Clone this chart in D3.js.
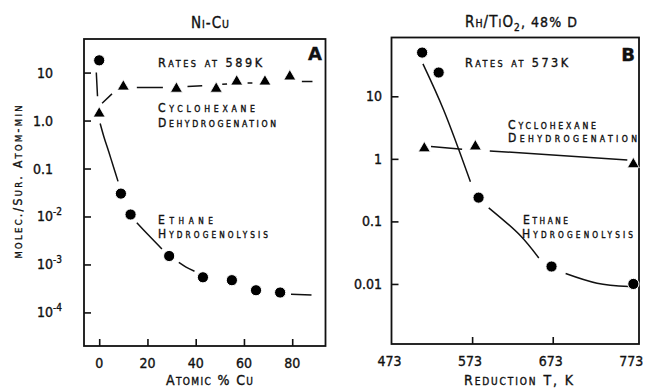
<!DOCTYPE html>
<html><head><meta charset="utf-8">
<script src="https://cdn.jsdelivr.net/npm/d3@7"></script>
<style>
body{margin:0;background:#fff;}
text{font-family:'DejaVu Sans Condensed','Liberation Sans Narrow','DejaVu Sans',sans-serif;fill:#111;stroke:#111;stroke-width:0.35px;}
</style></head>
<body><svg id="c" width="650" height="388"></svg>
<script>
// ---------- Panel A: Ni-Cu, rates at 589K ----------
const cuEthane = [0, 9, 13, 29, 43, 55, 65, 75];
const rateEthaneA = [18, 0.03, 0.011, 0.0015, 0.00054, 0.00047, 0.00029, 0.00026];
const cuCyhex = [0, 10, 32, 48.5, 57, 68.7, 79];
const rateCyhexA = [1.4, 5.1, 4.6, 4.6, 6.5, 6.5, 8.3];
// hand-drawn guide lines (null = gap in the drawing)
const fitEthaneAx = [-1.2, -0.7, null, 0.4, 2, 4, 6, 7.8, null, 15.6, 20, 26, null, 33, 36, 39.5, null, 79.5, 88];
const fitEthaneAy = [10, 3.2, null, 0.87, 0.45, 0.22, 0.105, 0.054, null, 0.0074, 0.0043, 0.0021, null, 0.0011, 0.00088, 0.00072, null, 0.00024, 0.00023];
const fitCyhexAx = [1.2, 5.3, null, 15.6, 26.4, null, 36.6, 42.7, null, 51, 53, null, 61.5, 63.5, null, 84, 88.4];
const fitCyhexAy = [2.3, 3.6, null, 4.9, 4.9, null, 5.1, 5.3, null, 5.7, 5.8, null, 6.1, 6.1, null, 6.5, 6.5];
const xTicksA = [0, 20, 40, 60, 80];
const yTicksA = [10, 1, 0.1, 0.01, 0.001, 0.0001];
const yTickLabelsA = [["10",""], ["1.0",""], ["0.1",""], ["10","-2"], ["10","-3"], ["10","-4"]];

// ---------- Panel B: Rh/TiO2, rates at 573K ----------
const tEthane = [511, 531.5, 581, 671.5, 773];
const rateEthaneB = [50, 24, 0.24, 0.019, 0.01];
const tCyhex = [513.7, 577, 773];
const rateCyhexB = [1.47, 1.58, 0.82];
const fitEthaneBx = [512, 537.8, 570.9, null, 593.6, 633, 655.7, null, 689, 728, 767.5];
const fitEthaneBy = [33, 6.0, 0.43, null, 0.165, 0.059, 0.026, null, 0.0147, 0.0103, 0.0091];
const fitCyhexBx = [522, 560.6, null, 594.9, 765.5];
const fitCyhexBy = [1.58, 1.43, null, 1.34, 0.955];
const xTicksB = [573, 673];
const xTickLabelsB = [473, 573, 673, 773];
const yTicksB = [10, 1, 0.1, 0.01];
const yTickLabelsB = ["10", "1", "0.1", "0.01"];

const svg = d3.select("#c");

function panel(o) {
  const g = svg.append("g");
  const x = d3.scaleLinear().domain(o.xd).range([o.l, o.r]);
  const y = d3.scaleLog().domain(o.yd).range([o.b, o.t]);
  g.append("rect").attr("x", o.l).attr("y", o.t).attr("width", o.r - o.l).attr("height", o.b - o.t)
    .attr("fill", "none").attr("stroke", "#111").attr("stroke-width", 1.8);
  const ax = g.append("g").attr("transform", `translate(0,${o.b})`)
    .call(d3.axisTop(x).tickValues(o.xTicks).tickSize(7).tickFormat(""));
  const ay = g.append("g").attr("transform", `translate(${o.l},0)`)
    .call(d3.axisRight(y).tickValues(o.yTicks).tickSize(7).tickFormat(""));
  [ax, ay].forEach(a => { a.select(".domain").remove(); a.selectAll("line").attr("stroke", "#111").attr("stroke-width", 1.6); });
  const line = d3.line().defined(d => d[0] != null).x(d => x(d[0])).y(d => y(d[1])).curve(d3.curveCatmullRom.alpha(0.5));
  o.fits.forEach(f => {
    const pts = f.xs.map((v, i) => [v, f.ys[i]]);
    g.append("path").attr("d", line(pts)).attr("fill", "none").attr("stroke", "#111").attr("stroke-width", 1.5);
  });
  g.selectAll(".c").data(o.circ.xs.map((v, i) => [v, o.circ.ys[i]])).join("circle")
    .attr("cx", d => x(d[0])).attr("cy", d => y(d[1])).attr("r", 5.6).attr("fill", "#000")
    .attr("stroke", "#fff").attr("stroke-width", 1);
  const tri = d3.symbol().type(d3.symbolTriangle).size(62);
  g.selectAll(".t").data(o.tri.xs.map((v, i) => [v, o.tri.ys[i]])).join("path")
    .attr("d", tri).attr("transform", d => `translate(${x(d[0])},${y(d[1])})`).attr("fill", "#000")
    .attr("stroke", "#fff").attr("stroke-width", 0.8);
  return { g, x, y };
}

const A = panel({
  l: 84, r: 325.5, t: 39, b: 346, xd: [-6.3, 93.8], yd: [Math.pow(10, -4.7), Math.pow(10, 1.7)],
  xTicks: xTicksA, yTicks: yTicksA,
  fits: [{ xs: fitEthaneAx, ys: fitEthaneAy }, { xs: fitCyhexAx, ys: fitCyhexAy }],
  circ: { xs: cuEthane, ys: rateEthaneA }, tri: { xs: cuCyhex, ys: rateCyhexA }
});
const B = panel({
  l: 391.5, r: 639, t: 37.5, b: 344, xd: [473, 780], yd: [Math.pow(10, -2.96), Math.pow(10, 1.94)],
  xTicks: xTicksB, yTicks: yTicksB,
  fits: [{ xs: fitEthaneBx, ys: fitEthaneBy }, { xs: fitCyhexBx, ys: fitCyhexBy }],
  circ: { xs: tEthane, ys: rateEthaneB }, tri: { xs: tCyhex, ys: rateCyhexB }
});

// tick labels
A.g.selectAll(".xl").data(xTicksA).join("text").attr("x", d => A.x(d)).attr("y", 368)
  .attr("text-anchor", "middle").attr("font-size", 14).text(d => d);
A.g.selectAll(".yl").data(yTicksA).join("text").attr("y", d => A.y(d) + 5).attr("font-size", 14)
  .each(function (d, i) {
    const t = d3.select(this), lab = yTickLabelsA[i];
    if (lab[1]) {
      t.attr("x", 37).attr("text-anchor", "start");
      t.append("tspan").text(lab[0]);
      t.append("tspan").attr("font-size", 10).attr("dy", -6).text(lab[1]);
    } else t.attr("x", 53).attr("text-anchor", "end").text(lab[0]);
  });
B.g.selectAll(".xl").data(xTickLabelsB).join("text").attr("x", d => B.x(d) - 2).attr("y", 366)
  .attr("text-anchor", "middle").attr("font-size", 14).text(d => d);
B.g.selectAll(".yl").data(yTicksB).join("text").attr("x", 382).attr("y", d => B.y(d) + 5)
  .attr("text-anchor", "end").attr("font-size", 14).text((d, i) => yTickLabelsB[i]);

// small-caps lettering: capitals full size, lower case as reduced capitals
function smallCaps(t, s, size, ratio) {
  const runs = [];
  for (const ch of s) {
    const low = ch !== ch.toUpperCase();
    if (runs.length && runs[runs.length - 1].low === low) runs[runs.length - 1].s += ch;
    else runs.push({ low, s: ch });
  }
  runs.forEach(r => t.append("tspan").attr("font-size", r.low ? size * ratio : size).text(r.s.toUpperCase()));
}
function label(x, y, s, len, size, ratio, anchor) {
  const t = svg.append("text").attr("x", x).attr("y", y).attr("font-size", size)
    .attr("text-anchor", anchor || "start");
  smallCaps(t, s, size, ratio);
  if (len) t.attr("textLength", len).attr("lengthAdjust", "spacing");
  return t;
}
label(210, 28, "Ni-Cu", 38, 15, 0.7, "middle");
const tb = svg.append("text").attr("x", 521).attr("y", 27).attr("font-size", 15).attr("text-anchor", "middle")
  .attr("textLength", 112).attr("lengthAdjust", "spacing");
smallCaps(tb, "Rh/TiO", 15, 0.7);
tb.append("tspan").attr("font-size", 10).attr("dy", 4).text("2");
tb.append("tspan").attr("dy", -4).attr("font-size", 14).text(", 48% D");

label(158, 67, "Rates at 589K", 104, 12.5, 0.72);
label(158, 112, "Cyclohexane", 97, 12, 0.72);
label(158, 127, "Dehydrogenation", 118, 12, 0.72);
label(158, 224, "Ethane", 55, 12, 0.68);
label(158, 238, "Hydrogenolysis", 110, 12, 0.68);
label(465, 67, "Rates at 573K", 103, 12.5, 0.72);
label(508, 128.5, "Cyclohexane", 88, 12, 0.72);
label(508, 142, "Dehydrogenation", 129, 12, 0.72);
label(523, 224, "Ethane", 45, 12, 0.68);
label(522, 238, "Hydrogenolysis", 111, 12, 0.68);
label(209.5, 385, "Atomic % Cu", 87, 14, 0.72, "middle");
label(518.5, 385, "Reduction T, K", 109, 14, 0.72, "middle");
const yl = svg.append("text").attr("transform", "translate(22,182) rotate(-90)").attr("font-size", 12)
  .attr("text-anchor", "middle");
smallCaps(yl, "molec./Sur. Atom-min", 12, 0.78);
yl.attr("textLength", 153).attr("lengthAdjust", "spacing");
svg.append("text").attr("x", 315).attr("y", 60).attr("font-size", 18).attr("font-weight", "bold")
  .attr("text-anchor", "middle").style("font-family", "'DejaVu Sans',sans-serif").text("A");
svg.append("text").attr("x", 628).attr("y", 61).attr("font-size", 18).attr("font-weight", "bold")
  .attr("text-anchor", "middle").style("font-family", "'DejaVu Sans',sans-serif").text("B");
</script></body></html>
